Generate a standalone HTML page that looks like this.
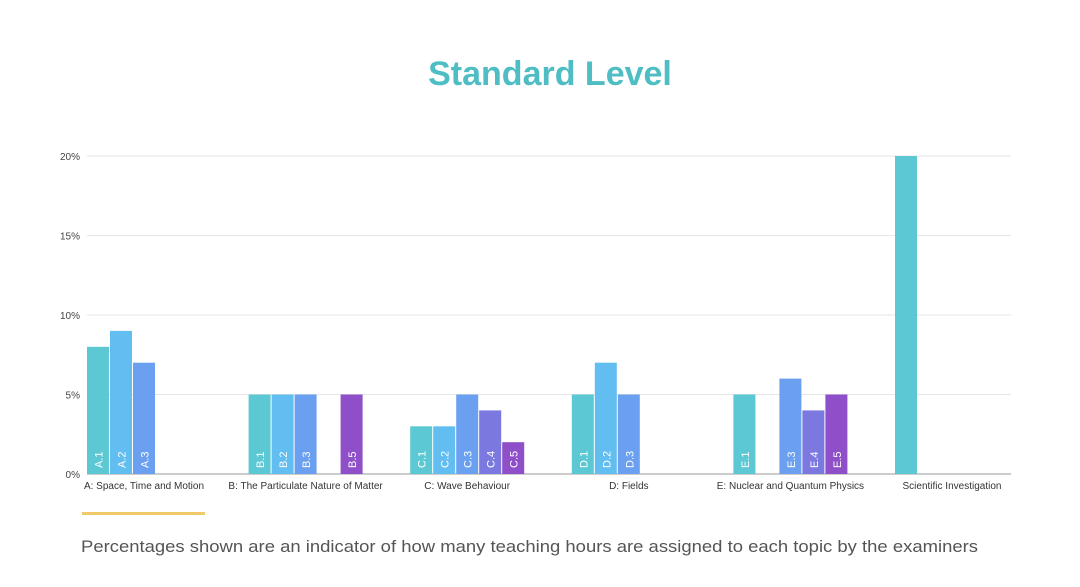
<!DOCTYPE html>
<html><head><meta charset="utf-8"><style>
html,body{margin:0;padding:0;background:#fff;width:1080px;height:587px;overflow:hidden}
svg{display:block;font-family:"Liberation Sans",sans-serif}
</style></head><body>
<svg id="chart" width="1080" height="587">
<text x="550" y="85" text-anchor="middle" font-size="34" font-weight="bold" fill="#4fbdc4">Standard Level</text>
<g id="grid"></g><g id="bars"></g><g id="labels"></g>
<rect x="82" y="512" width="123" height="3" fill="#efc96a"/>
<text x="81" y="552" font-size="17" fill="#555" textLength="897" lengthAdjust="spacingAndGlyphs">Percentages shown are an indicator of how many teaching hours are assigned to each topic by the examiners</text>
</svg>
<script>
const groups=["A: Space, Time and Motion","B: The Particulate Nature of Matter","C: Wave Behaviour","D: Fields","E: Nuclear and Quantum Physics","Scientific Investigation"];
const barLabels=[["A.1","A.2","A.3"],["B.1","B.2","B.3",null,"B.5"],["C.1","C.2","C.3","C.4","C.5"],["D.1","D.2","D.3"],["E.1",null,"E.3","E.4","E.5"],[""]];
const values=[[8,9,7],[5,5,5,null,5],[3,3,5,4,2],[5,7,5],[5,null,6,4,5],[20]];
const ticks=[0,5,10,15,20];
const colors=["#5bc8d4","#62bdf0","#6aa0ef","#7b78e0","#8e4fc9"];
const NS="http://www.w3.org/2000/svg";
const y=v=>474-v*15.9;
const gx=i=>87+i*161.6;
function mk(t,a,p){const e=document.createElementNS(NS,t);for(const k in a)e.setAttribute(k,a[k]);p.appendChild(e);return e;}
const grid=document.getElementById('grid'),bars=document.getElementById('bars'),labs=document.getElementById('labels');
ticks.forEach(t=>{
 const l=mk('line',{x1:87,x2:1011,y1:y(t),y2:y(t),stroke:t===0?'#999':'#e6e6e6','stroke-width':1},grid);
 
 
 const tx=mk('text',{x:80,y:y(t)+4,'text-anchor':'end','font-size':10,fill:'#444'},grid);
 tx.textContent=t+'%';
 
 
});
values.forEach((g,i)=>{
 g.forEach((v,j)=>{
  if(v==null)return;
  const x=gx(i)+j*23;
  const r=mk('rect',{x:x,y:y(v),width:22,height:474-y(v),fill:colors[j]},bars);
  
  
  const lb=barLabels[i][j];
  if(lb){const t=mk('text',{transform:`translate(${x+15.5},468) rotate(-90)`,'font-size':11,fill:'#fff'},bars);
   t.textContent=lb;
   
   }
 });
 const t=mk('text',{x:gx(i)+57,y:489,'text-anchor':'middle','font-size':10,fill:'#333'},labs);
 t.textContent=groups[i];
 
 
});
</script>
</body></html>
